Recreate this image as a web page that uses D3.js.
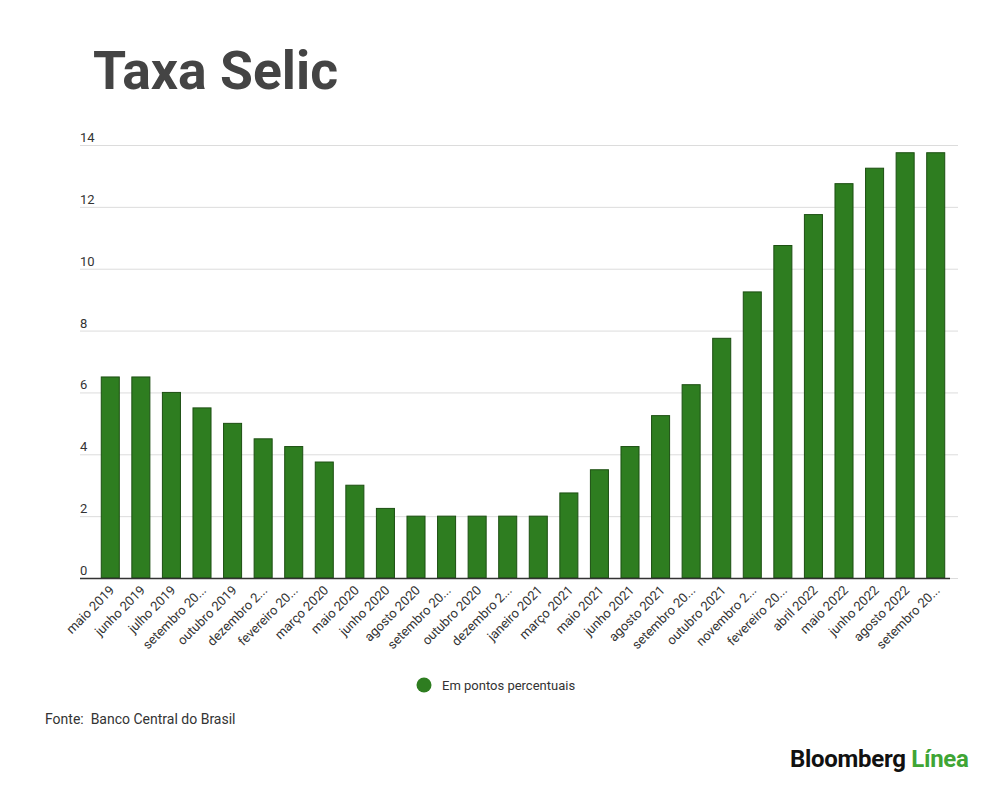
<!DOCTYPE html>
<html>
<head>
  <meta charset="utf-8">
  <script src="https://d3js.org/d3.v7.min.js"></script>
  <style>
    body { margin: 0; background: #fff; }
    text { font-family: Roboto, "Noto Sans", sans-serif; }
  </style>
</head>
<body>
  <svg id="chart"></svg>
  <script>
    var months = ["maio 2019", "junho 2019", "julho 2019", "setembro 20...", "outubro 2019",
                  "dezembro 2...", "fevereiro 20...", "março 2020", "maio 2020", "junho 2020",
                  "agosto 2020", "setembro 20...", "outubro 2020", "dezembro 2...", "janeiro 2021",
                  "março 2021", "maio 2021", "junho 2021", "agosto 2021", "setembro 20...",
                  "outubro 2021", "novembro 2...", "fevereiro 20...", "abril 2022", "maio 2022",
                  "junho 2022", "agosto 2022", "setembro 20..."];
    var selic = [6.5, 6.5, 6.0, 5.5, 5.0,
                 4.5, 4.25, 3.75, 3.0, 2.25,
                 2.0, 2.0, 2.0, 2.0, 2.0,
                 2.75, 3.5, 4.25, 5.25, 6.25,
                 7.75, 9.25, 10.75, 11.75, 12.75,
                 13.25, 13.75, 13.75];
    var yTicks = [0, 2, 4, 6, 8, 10, 12, 14];

    var width = 1000;
    var height = 789;
    var green = "#2e7d20";

    var svg = d3.select("#chart")
                .attr("width", width)
                .attr("height", height);

    // categories are indexed so the repeated labels stay separate bands
    var xScale = d3.scaleBand()
                   .domain(d3.range(months.length))
                   .range([95, 951])
                   .paddingInner(0.41)
                   .paddingOuter(0.205);
    var yScale = d3.scaleLinear()
                   .domain([0, 14])
                   .range([578, 145]);

    svg.append("text")
       .attr("x", 93)
       .attr("y", 89)
       .attr("font-size", 53.5)
       .attr("font-weight", "bold")
       .attr("fill", "#444")
       .text("Taxa Selic");

    // gridlines + y labels
    var grid = svg.append("g");
    grid.selectAll("line")
        .data(yTicks)
        .enter().append("line")
        .attr("x1", 80)
        .attr("x2", 958)
        .attr("y1", function(d) { return yScale(d) + 0.5; })
        .attr("y2", function(d) { return yScale(d) + 0.5; })
        .attr("stroke", "#dcdcdc")
        .attr("stroke-width", 1);
    grid.selectAll("text")
        .data(yTicks)
        .enter().append("text")
        .attr("x", 80)
        .attr("y", function(d) { return yScale(d) - 3; })
        .attr("font-size", 13)
        .attr("fill", "#333")
        .text(function(d) { return d; });

    svg.append("g")
       .selectAll("rect")
       .data(selic)
       .enter().append("rect")
       .attr("x", function(d, i) { return xScale(i); })
       .attr("y", function(d) { return yScale(d); })
       .attr("width", xScale.bandwidth())
       .attr("height", function(d) { return yScale(0) - yScale(d); })
       .attr("fill", green)
       .attr("stroke", "#1c4f12")
       .attr("stroke-width", 1);

    svg.append("line")
       .attr("x1", 80)
       .attr("x2", 950)
       .attr("y1", yScale(0) + 0.5)
       .attr("y2", yScale(0) + 0.5)
       .attr("stroke", "#333")
       .attr("stroke-width", 1.5);

    svg.append("g")
       .selectAll("text")
       .data(months)
       .enter().append("text")
       .attr("transform", function(d, i) {
         var cx = xScale(i) + xScale.bandwidth() / 2 + 5;
         return "translate(" + cx + ",591) rotate(-45)";
       })
       .attr("text-anchor", "end")
       .attr("font-size", 13)
       .attr("fill", "#333")
       .text(function(d) { return d; });

    // legend
    svg.append("circle")
       .attr("cx", 424)
       .attr("cy", 685)
       .attr("r", 7.5)
       .attr("fill", green);
    svg.append("text")
       .attr("x", 442)
       .attr("y", 689.5)
       .attr("font-size", 13)
       .attr("fill", "#333")
       .text("Em pontos percentuais");

    svg.append("text")
       .attr("x", 45)
       .attr("y", 723.5)
       .attr("font-size", 14)
       .attr("fill", "#333")
       .attr("xml:space", "preserve")
       .text("Fonte:  Banco Central do Brasil");

    var logo = svg.append("text")
                  .attr("x", 790)
                  .attr("y", 767)
                  .attr("font-size", 24)
                  .attr("font-weight", "bold")
                  .attr("letter-spacing", -0.3);
    logo.append("tspan").attr("fill", "#111").text("Bloomberg ");
    logo.append("tspan").attr("fill", "#3fa535").text("Línea");
  </script>
</body>
</html>
